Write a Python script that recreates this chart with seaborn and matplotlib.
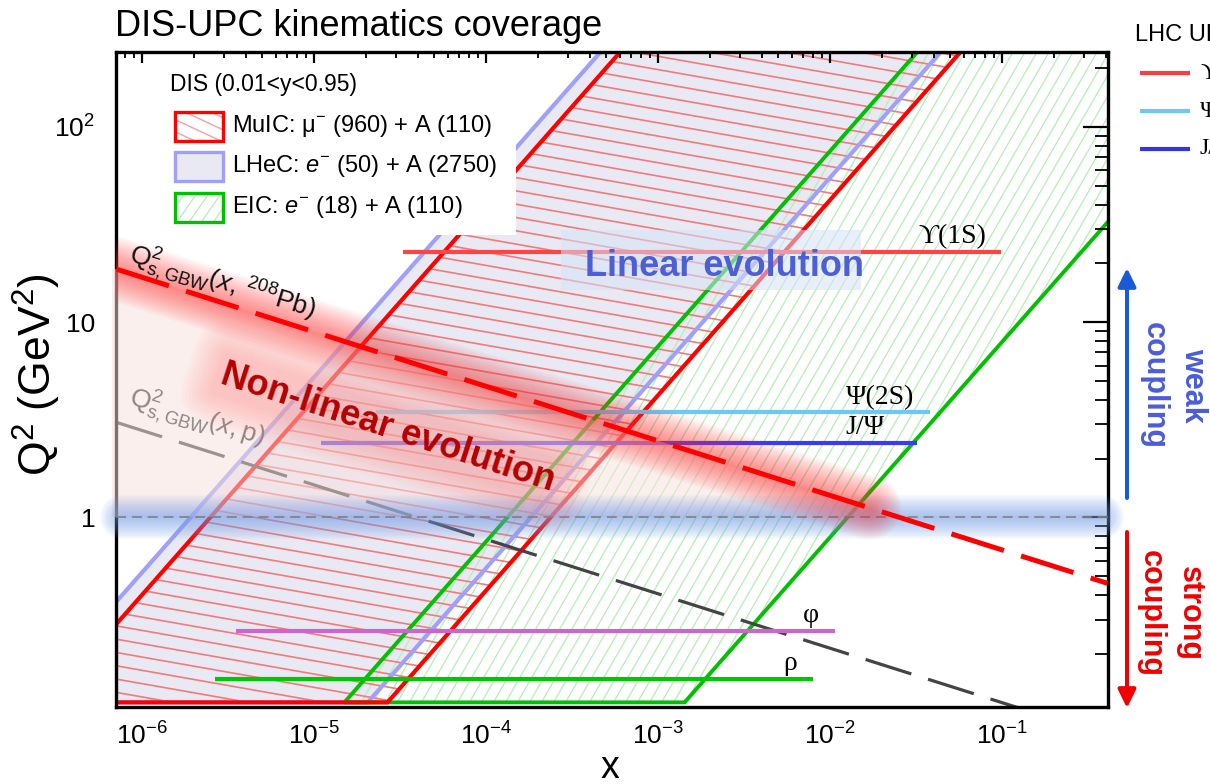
import numpy as np
import pandas as pd
import matplotlib
matplotlib.use("Agg")
import matplotlib.pyplot as plt
import matplotlib.transforms as mtransforms
from matplotlib.patches import Polygon, Rectangle, FancyArrowPatch
from matplotlib.collections import LineCollection
from matplotlib.lines import Line2D
from matplotlib.ticker import LogLocator, NullFormatter, FixedLocator, FixedFormatter
import seaborn as sns

# ---------------- data ----------------
collider_names = ["MuIC", "LHeC", "EIC"]
lepton_energy = [960.0, 50.0, 18.0]      # GeV
ion_energy = [110.0, 2750.0, 110.0]      # GeV per nucleon
y_low, y_high = 0.01, 0.95               # inelasticity range
q2_cut = 0.113                           # lower Q2 edge of the DIS bands
q2_far = 1.0e4                           # upper Q2 of the bands (outside the view)

sat_pb_x = [7.1e-7, 0.41]
sat_pb_q2 = [18.7, 0.46]
sat_p_x = [7.1e-7, 0.41]
sat_p_q2 = [3.07, 0.076]

meson_names = ["ϒ(1S)", "Ψ(2S)", "J/Ψ", "φ", "ρ"]
meson_q2 = [22.9, 3.45, 2.42, 0.263, 0.149]
meson_x_min = [3.3e-5, 2.3e-5, 1.1e-5, 3.5e-6, 2.65e-6]
meson_x_max = [0.099, 0.038, 0.032, 0.0107, 0.0080]

upc_legend_names = ["ϒ(1S)", "Ψ(2S)", "J/Ψ"]

x_ticks = [1e-6, 1e-5, 1e-4, 1e-3, 1e-2, 1e-1]
y_ticks = [1.0, 10.0, 100.0]
y_tick_labels = ["1", "10", r"$10^{2}$"]
x_range = [7.06e-7, 0.413]
q2_range = [0.107, 242.0]

linear_label_pos = (2.42e-3, 17.2)
nonlinear_label_pos = (2.69e-5, 2.89)
pb_label_pos = (8.2e-7, 20.5)
p_label_pos = (8.2e-7, 3.8)
glow_end_x = 0.017

# ---------------- styles ----------------
meson_colors = ["#ff4444", "#6cc8f5", "#3a3aff", "#cc66cc", "#00c800"]
meson_label_dx = [-11, -11, -23, -11.5, -11.5]
upc_legend_colors = ["#f04444", "#70c8f0", "#3434e0"]

sns.set_theme(style="white")
plt.rcParams["font.family"] = ["Liberation Sans", "DejaVu Sans"]
plt.rcParams["mathtext.fontset"] = "custom"
plt.rcParams["mathtext.rm"] = "Liberation Sans"
plt.rcParams["mathtext.it"] = "Liberation Sans:italic"
plt.rcParams["mathtext.bf"] = "Liberation Sans:bold"
plt.rcParams["text.color"] = "black"
plt.rcParams["axes.edgecolor"] = "black"
plt.rcParams["xtick.color"] = "black"
plt.rcParams["ytick.color"] = "black"
SERIF = ["Liberation Serif", "DejaVu Serif"]

W, H, DPI = 1210, 784, 100
fig = plt.figure(figsize=(W / DPI, H / DPI), dpi=DPI, facecolor="white")
AX_L, AX_R, AX_T, AX_B = 116, 1108, 52, 707
ax = fig.add_axes([AX_L / W, 1 - AX_B / H, (AX_R - AX_L) / W, (AX_B - AX_T) / H])
ax.set_facecolor("white")
PX = mtransforms.Affine2D().scale(1, -1).translate(0, H)   # top-left pixel coords
IDT = mtransforms.IdentityTransform()

ax.set_xscale("log")
ax.set_yscale("log")
ax.set_xlim(x_range)
ax.set_ylim(q2_range)


def hatch_lines(angle_deg, spacing):
    a = np.deg2rad(angle_deg)
    d = np.array([np.cos(a), np.sin(a)])
    nrm = np.array([-np.sin(a), np.cos(a)])
    diag = np.hypot(W, H)
    c = np.array([W / 2.0, H / 2.0])
    offs = np.arange(-diag, diag, spacing)
    return [np.array([c + o * nrm - diag * d, c + o * nrm + diag * d]) for o in offs]


def band_vertices(el, ea):
    s = 4.0 * el * ea
    return [(q2_cut / (y_high * s), q2_cut), (q2_far / (y_high * s), q2_far),
            (q2_far / (y_low * s), q2_far), (q2_cut / (y_low * s), q2_cut)]


def glow(xs, ys, color, max_lw, n, alpha, zorder, **kw):
    for lw in np.linspace(max_lw, max_lw / n, n):
        ax.plot(xs, ys, color=color, alpha=alpha, lw=lw, solid_capstyle="round", zorder=zorder, **kw)


verts = {n: band_vertices(el, ea) for n, el, ea in zip(collider_names, lepton_energy, ion_energy)}

# LHeC fill
ax.add_patch(Polygon(verts["LHeC"], closed=True, facecolor="#e9e9f4", edgecolor="none", zorder=1.0))
# edges (also used as hatch clip paths)
edge_lhec = Polygon(verts["LHeC"], closed=True, facecolor="none", edgecolor="#a0a0fa", lw=3.0, zorder=2.6)
edge_eic = Polygon(verts["EIC"], closed=True, facecolor="none", edgecolor="#00c000", lw=2.8, zorder=2.7)
edge_muic = Polygon(verts["MuIC"], closed=True, facecolor="none", edgecolor="#ff0000", lw=3.0, zorder=2.8)
for p in (edge_lhec, edge_eic, edge_muic):
    ax.add_patch(p)

lc_eic = LineCollection(hatch_lines(60, 10.4), colors="#b5eeb5", linewidths=0.9, transform=IDT, zorder=1.2)
ax.add_collection(lc_eic, autolim=False)
lc_eic.set_clip_path(edge_eic)
lc_eic.set_clip_box(ax.bbox)

lc_mu = LineCollection(hatch_lines(-10, 13.1), colors="#f27a7a", linewidths=1.2, transform=IDT, zorder=1.4)
ax.add_collection(lc_mu, autolim=False)
lc_mu.set_clip_path(edge_muic)
lc_mu.set_clip_box(ax.bbox)

# proton saturation line
ax.plot(sat_p_x, sat_p_q2, color="#444444", lw=2.3, dashes=(15, 5.5), zorder=3.0)
ax.text(*p_label_pos, r"$\mathrm{Q}^{2}_{\mathrm{s,GBW}}(x\mathrm{,p})$", fontsize=19, color="#2a2a2a",
        rotation=-17, rotation_mode="anchor", ha="left", va="baseline", zorder=3.0)

# UPC vector meson lines (seaborn)
meson_df = pd.DataFrame({
    "meson": np.repeat(meson_names, 2),
    "x": np.ravel(np.column_stack([meson_x_min, meson_x_max])),
    "Q2": np.repeat(meson_q2, 2),
})
sns.lineplot(data=meson_df, x="x", y="Q2", hue="meson", hue_order=meson_names,
             palette=dict(zip(meson_names, meson_colors)), estimator=None, sort=False,
             legend=False, linewidth=3.0, solid_capstyle="butt", ax=ax, zorder=3.2)
ax.set_xlabel("")
ax.set_ylabel("")
for name, q2, xm, dx in zip(meson_names, meson_q2, meson_x_max, meson_label_dx):
    ax.annotate(name, xy=(xm, q2), xytext=(dx, 2), textcoords="offset points", ha="right", va="bottom",
                fontsize=20, family=SERIF, zorder=6)

# non-linear region tint (above Q2 = 1, below the Pb saturation line)
x_ext = x_range[0] / 10 ** (4 / 172)
ov_verts = [(x_ext, 1.0), (x_ext, sat_pb_q2[0]), (sat_pb_x[0], sat_pb_q2[0]),
            (sat_pb_x[1], sat_pb_q2[1]), (sat_pb_x[1], 1.0)]
ov = Polygon(ov_verts, closed=True, facecolor=(0.976, 0.882, 0.867), alpha=0.5, edgecolor="none", zorder=3.4)
ax.add_patch(ov)
ov_clip = Rectangle((x_ext, 1.0), 1.0, 1e3, transform=ax.transData)
ov.set_clip_path(ov_clip)

# Q2 = 1 glow band and dashed line
band_tr = mtransforms.blended_transform_factory(ax.transAxes, ax.transData)
glow([0.006, 0.994], [1, 1], (0.45, 0.62, 0.92), 32, 18, 0.045, 3.5, transform=band_tr, clip_on=False)
ax.axhline(1.0, color="#808080", lw=1.2, dashes=(6, 3.5), zorder=3.6)

# Pb saturation line with glow
glow_end_q2 = 10 ** np.interp(np.log10(glow_end_x), np.log10(sat_pb_x), np.log10(sat_pb_q2))
glow([sat_pb_x[0], glow_end_x], [sat_pb_q2[0], glow_end_q2], (1, 0.2, 0.2), 46, 20, 0.035, 5.0)
ax.plot(sat_pb_x, sat_pb_q2, color="#ff0000", lw=3.6, dashes=(11, 3.6), zorder=5.5)
ax.text(*pb_label_pos, r"$\mathrm{Q}^{2}_{\mathrm{s,GBW}}(x\mathrm{,\,}^{208}\mathrm{Pb})$", fontsize=19,
        color="#111111", rotation=-17, rotation_mode="anchor", ha="left", va="baseline", zorder=5.6)

# Non-linear evolution label with soft glow box
for pad in np.linspace(0.95, 0.15, 9):
    ax.text(*nonlinear_label_pos, "Non-linear evolution", fontsize=26, fontweight="bold", color="none",
            rotation=-18, rotation_mode="anchor", ha="center", va="center", zorder=5.8,
            bbox=dict(boxstyle=f"round,pad={pad:.2f}", fc=(1, 0.42, 0.42), ec="none", alpha=0.04))
ax.text(*nonlinear_label_pos, "Non-linear evolution", fontsize=26, fontweight="bold", color="#b40000",
        rotation=-18, rotation_mode="anchor", ha="center", va="center", zorder=6)

# Linear evolution label with box
ax.add_patch(Rectangle((561, 230), 300, 60, transform=PX, facecolor=(0.84, 0.89, 0.97), alpha=0.55,
                       edgecolor="none", zorder=5.0, clip_on=False))
ax.text(*linear_label_pos, "Linear evolution", fontsize=26, fontweight="bold", color="#4d5fd4",
        ha="center", va="baseline", zorder=6)

# ---------------- axes styling ----------------
ax.xaxis.set_major_locator(FixedLocator(x_ticks))
ax.xaxis.set_minor_locator(LogLocator(base=10, subs=np.arange(2, 10), numticks=50))
ax.xaxis.set_minor_formatter(NullFormatter())
ax.yaxis.set_major_locator(FixedLocator(y_ticks))
ax.yaxis.set_major_formatter(FixedFormatter(y_tick_labels))
ax.yaxis.set_minor_locator(LogLocator(base=10, subs=np.arange(2, 10), numticks=50))
ax.yaxis.set_minor_formatter(NullFormatter())
ax.tick_params(which="both", direction="in", top=True, right=True, colors="black")
ax.tick_params(axis="x", which="major", length=8, width=1.6, labelsize=19, pad=11)
ax.tick_params(axis="x", which="minor", length=4, width=1.3)
ax.tick_params(axis="y", which="major", length=18, width=1.6, labelsize=19, pad=15)
ax.tick_params(axis="y", which="minor", length=9.5, width=1.3)
for sp in ax.spines.values():
    sp.set_linewidth(2.4)
    sp.set_color("black")
    sp.set_zorder(3.1)
ax.xaxis.set_zorder(3.1)
ax.yaxis.set_zorder(3.1)
ax.grid(False)

# ---------------- DIS legend (top left, inside the frame) ----------------
ax.add_patch(Rectangle((116, 52), 400, 183, transform=PX, facecolor="white", edgecolor="none",
                       zorder=3.05, clip_on=False))
ax.text(170, 85, "DIS (0.01<y<0.95)", transform=PX, fontsize=16.5, va="center", ha="left", zorder=3.09)
icon_rows = [126, 166, 207]
icon_specs = [
    dict(fc="white", ec="#ff0000", hatch=(-25, 11, "#f5a0a0", 1.0)),
    dict(fc="#e9e9f4", ec="#a0a0fa", hatch=None),
    dict(fc="white", ec="#00c000", hatch=(55, 10, "#b5eeb5", 0.9)),
]
legend_labels = [r"MuIC: μ$^{-}$ (960) + A (110)", r"LHeC: $e^{-}$ (50) + A (2750)",
                 r"EIC: $e^{-}$ (18) + A (110)"]
for yc, spec, lab in zip(icon_rows, icon_specs, legend_labels):
    bg = Rectangle((175, yc - 14.5), 48, 29, transform=PX, facecolor=spec["fc"], edgecolor="none",
                   zorder=3.06, clip_on=False)
    ax.add_patch(bg)
    if spec["hatch"] is not None:
        ang, sp_, col, lw = spec["hatch"]
        lc = LineCollection(hatch_lines(ang, sp_), colors=col, linewidths=lw, transform=IDT, zorder=3.07)
        ax.add_collection(lc, autolim=False)
        lc.set_clip_path(bg)
    ax.add_patch(Rectangle((175, yc - 14.5), 48, 29, transform=PX, facecolor="none", edgecolor=spec["ec"],
                           lw=2.4, zorder=3.08, clip_on=False))
    ax.text(232, yc, lab, transform=PX, fontsize=17, va="center", ha="left", zorder=3.09)

# ---------------- figure-level texts ----------------
fig.text(115 / W, 1 - 36 / H, "DIS-UPC kinematics coverage", fontsize=26, ha="left", va="baseline")
fig.text(37 / W, 1 - 375 / H, r"Q$^{2}$ (GeV$^{2}$)", fontsize=32, rotation=90, ha="center", va="center")
fig.text(610 / W, 1 - 778 / H, "x", fontsize=27, ha="center", va="baseline")

# UPC legend on the right (cut by the image edge as in the reference)
fig.text(1135 / W, 1 - 35 / H, "LHC UPC", fontsize=17, ha="left", va="center")
for yy, col, lab in zip([73, 111, 149], upc_legend_colors, upc_legend_names):
    fig.add_artist(Line2D([1140, 1190], [yy, yy], transform=PX, color=col, lw=3.0, solid_capstyle="butt"))
    fig.text(1200 / W, 1 - yy / H, lab, fontsize=17, family=SERIF, ha="left", va="center")

# coupling arrows
fig.add_artist(FancyArrowPatch((1127, 498), (1127, 268), transform=PX, arrowstyle="-|>,head_length=0.55,head_width=0.27",
                               mutation_scale=20, lw=2.9, color="#1a5ad8", shrinkA=0, shrinkB=0))
fig.add_artist(FancyArrowPatch((1127, 532), (1127, 708), transform=PX, arrowstyle="-|>,head_length=0.55,head_width=0.27",
                               mutation_scale=20, lw=2.9, color="#f00000", shrinkA=0, shrinkB=0))
fig.text(1173 / W, 1 - 385 / H, "weak\ncoupling", fontsize=22, fontweight="bold", color="#4b5dd6",
         rotation=270, ha="center", va="center", multialignment="center", linespacing=1.4)
fig.text(1170 / W, 1 - 614 / H, "strong\ncoupling", fontsize=22, fontweight="bold", color="#f00000",
         rotation=270, ha="center", va="center", multialignment="center", linespacing=1.4)

fig.savefig("out.png", dpi=DPI, facecolor="white")
